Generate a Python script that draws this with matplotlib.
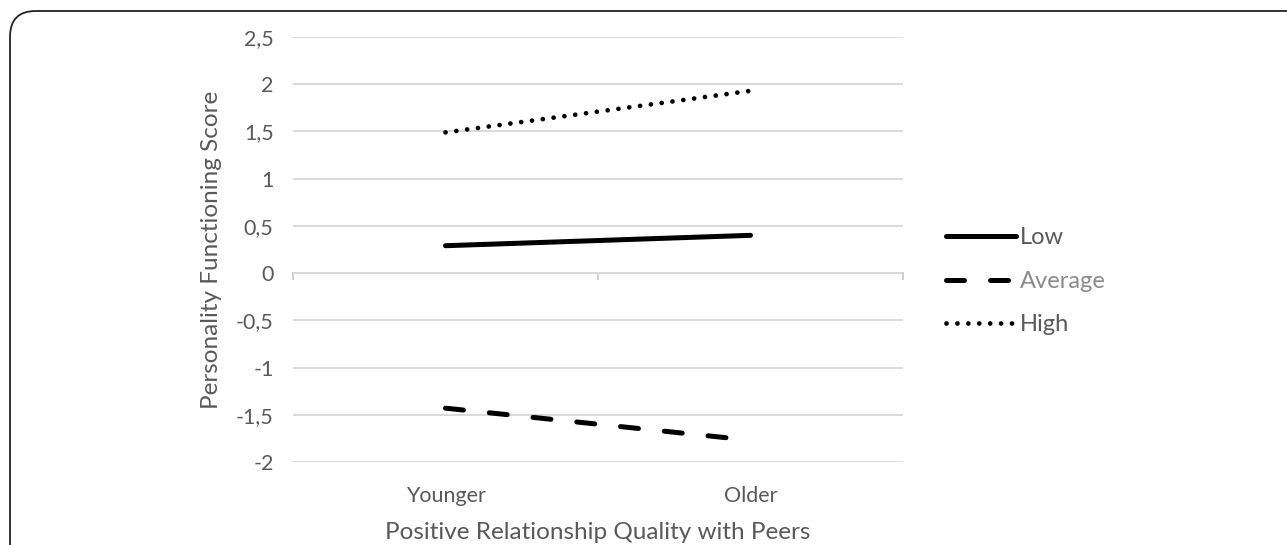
import matplotlib
matplotlib.use("Agg")
import matplotlib.pyplot as plt
from matplotlib.patches import FancyBboxPatch

# data
groups = ["Younger", "Older"]
low = [0.29, 0.40]
average = [-1.43, -1.77]
high = [1.49, 1.93]
y_ticks = [-2, -1.5, -1, -0.5, 0, 0.5, 1, 1.5, 2, 2.5]
y_tick_labels = ["-2", "-1,5", "-1", "-0,5", "0", "0,5", "1", "1,5", "2", "2,5"]

text_color = '#595959'
grid_color = '#d9d9d9'

plt.rcParams['font.family'] = ['Lato', 'DejaVu Sans']

fig = plt.figure(figsize=(12.87, 5.45), dpi=100, facecolor='white')

# rounded frame around the figure (cut off at right and bottom)
frame = FancyBboxPatch((10 / 1287, -0.2), 1.2, 1 - 11 / 545 + 0.2,
                       boxstyle="round,pad=0,rounding_size=0.02",
                       transform=fig.transFigure, facecolor='none',
                       edgecolor='#222222', linewidth=1.3,
                       mutation_aspect=1287 / 545)
fig.patches.append(frame)

ax = fig.add_axes([293 / 1287, 1 - 462 / 545, 610 / 1287, 425 / 545])

x = list(range(len(groups)))
lw = 3.6
ax.plot(x, low, color='black', linewidth=lw, solid_capstyle='round', label='Low', zorder=3)
ax.plot(x, average, color='black', linewidth=lw, dashes=(3.6, 5.2),
        dash_capstyle='round', label='Average', zorder=3)
ax.plot(x, high, color='black', linewidth=3.4, dashes=(0.01, 2.3),
        dash_capstyle='round', label='High', zorder=3)

ymin, ymax = -2, 2.5
ax.set_ylim(ymin, ymax)
ax.set_xlim(-0.5, len(groups) - 0.5)
ax.set_yticks(y_ticks)
ax.set_yticklabels(y_tick_labels)
ax.set_xticks(x)
ax.set_xticklabels(groups)
ax.tick_params(axis='both', length=0, labelsize=15.5, colors=text_color)
ax.tick_params(axis='y', pad=14)
ax.tick_params(axis='x', pad=17)

ax.grid(True, axis='y', color=grid_color, linewidth=1.4)
ax.set_axisbelow(True)
for s in ax.spines.values():
    s.set_visible(False)

# category axis crossing at zero, with tick marks between categories
sec = ax.secondary_xaxis((0 - ymin) / (ymax - ymin))
sec.set_xticks([-0.5, 0.5, 1.5])
sec.set_xticklabels([])
sec.tick_params(axis='x', direction='out', length=5, width=1.2, color='#c8c8c8')
sec.spines['bottom'].set_color('#c8c8c8')
sec.spines['bottom'].set_linewidth(1.4)

ax.set_ylabel('Personality Functioning Score', fontsize=17.5, color=text_color, labelpad=10)
ax.set_xlabel('Positive Relationship Quality with Peers', fontsize=17.5, color=text_color, labelpad=12)

leg = ax.legend(loc='center left', bbox_to_anchor=(1.035, 0.425), frameon=False,
                fontsize=17, handlelength=3.0, handletextpad=0.15, labelspacing=0.95)
for t in leg.get_texts():
    t.set_color(text_color)
leg.get_texts()[1].set_color('#8a8a8a')

fig.savefig('out.png', dpi=100, facecolor='white')
